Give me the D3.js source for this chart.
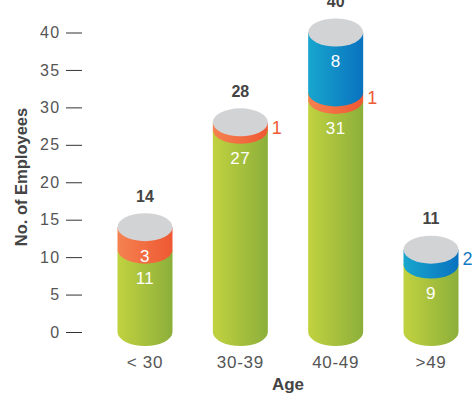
<!DOCTYPE html>
<html>
<head>
<meta charset="utf-8">
<script src="https://cdn.jsdelivr.net/npm/d3@7/dist/d3.min.js"></script>
<style>
  html, body { margin: 0; padding: 0; background: #fff; }
  svg { display: block; font-family: "Liberation Sans", Arial, Helvetica, sans-serif; }
</style>
</head>
<body>
<svg id="chart" width="475" height="404"></svg>
<script>
// Employees by age group, stacked by segment
const categories = ["< 30", "30-39", "40-49", ">49"];
const greenValues = [11, 27, 31, 9];
const orangeValues = [3, 1, 1, 0];
const blueValues = [0, 0, 8, 2];
const totals = [14, 28, 40, 11];
const yTicks = [0, 5, 10, 15, 20, 25, 30, 35, 40];

const svg = d3.select("#chart");

const x = d3.scalePoint().domain(categories).range([145, 431]);
const y = d3.scaleLinear().domain([0, 40]).range([332, 32.5]);

const rx = 27.5, ry = 14;

// Horizontal gradients giving each cylinder segment its rounded look
const defs = svg.append("defs");
const gradients = [
  { id: "g-green", from: "#c1d23f", to: "#8caf3b" },
  { id: "g-orange", from: "#f58250", to: "#ee5833" },
  { id: "g-blue", from: "#17a6cd", to: "#0a72bf" }
];
gradients.forEach(g => {
  const lg = defs.append("linearGradient").attr("id", g.id)
    .attr("x1", 0).attr("x2", 1).attr("y1", 0).attr("y2", 0);
  lg.append("stop").attr("offset", "0%").attr("stop-color", g.from);
  lg.append("stop").attr("offset", "100%").attr("stop-color", g.to);
});

// Y axis: short tick marks with labels, no domain line
const yAxis = d3.axisLeft(y).tickValues(yTicks).tickSize(16).tickPadding(5.5);
const gy = svg.append("g").attr("transform", "translate(82,0)").call(yAxis);
gy.select(".domain").remove();
gy.selectAll(".tick line").attr("stroke", "#333").attr("stroke-width", 1);
gy.selectAll(".tick text")
  .attr("fill", "#555")
  .style("font-size", "16px")
  .style("letter-spacing", "1.3px")
  .style("font-family", "'Liberation Sans', Arial, sans-serif");

// Build segment list for each bar (bottom to top)
const bars = categories.map((c, i) => {
  const segs = [];
  let base = 0;
  [
    { v: greenValues[i], fill: "url(#g-green)", color: "#8caf3b" },
    { v: orangeValues[i], fill: "url(#g-orange)", color: "#ef5b36" },
    { v: blueValues[i], fill: "url(#g-blue)", color: "#1479c4" }
  ].forEach(s => {
    if (s.v > 0) {
      segs.push({ v: s.v, y0: base, y1: base + s.v, fill: s.fill, color: s.color });
      base += s.v;
    }
  });
  return { cat: c, total: totals[i], segs };
});

function segmentPath(cx, yTop, yBot) {
  const l = cx - rx, r = cx + rx;
  return `M${l},${yTop} L${l},${yBot} A${rx},${ry} 0 0 0 ${r},${yBot} L${r},${yTop} Z`;
}

const barG = svg.append("g");
bars.forEach(b => {
  const cx = x(b.cat);
  const g = barG.append("g");
  b.segs.forEach(s => {
    g.append("path")
      .attr("d", segmentPath(cx, y(s.y1), y(s.y0)))
      .attr("fill", s.fill);
  });
  // top cap
  g.append("ellipse")
    .attr("cx", cx).attr("cy", y(b.total))
    .attr("rx", rx).attr("ry", ry)
    .attr("fill", "#d2d3d5");

  // segment value labels
  b.segs.forEach(s => {
    if (s.v >= 3) {
      g.append("text")
        .attr("x", cx).attr("y", y(s.y1) + ry + 15)
        .attr("text-anchor", "middle")
        .attr("dominant-baseline", "central")
        .attr("fill", "#fff")
        .style("font-size", "17px")
        .style("letter-spacing", "0.5px")
        .text(s.v);
    } else {
      g.append("text")
        .attr("x", cx + rx + 4).attr("y", (y(s.y1) + y(s.y0)) / 2 + 2)
        .attr("text-anchor", "start")
        .attr("dominant-baseline", "central")
        .attr("fill", s.color)
        .style("font-size", "18px")
        .text(s.v);
    }
  });

  // total label
  g.append("text")
    .attr("x", cx).attr("y", y(b.total) - ry - 17)
    .attr("text-anchor", "middle")
    .attr("dominant-baseline", "central")
    .attr("fill", "#444")
    .style("font-size", "16px")
    .style("font-weight", "bold")
    .text(b.total);
});

// Category labels
svg.append("g").selectAll("text")
  .data(categories)
  .join("text")
  .attr("x", d => x(d))
  .attr("y", 368)
  .attr("text-anchor", "middle")
  .attr("fill", "#555")
  .style("font-size", "17px")
  .style("letter-spacing", "0.7px")
  .text(d => d);

// Axis titles
svg.append("text")
  .attr("x", 288).attr("y", 390)
  .attr("text-anchor", "middle")
  .attr("fill", "#444")
  .style("font-size", "17px")
  .style("font-weight", "bold")
  .text("Age");

svg.append("text")
  .attr("transform", "translate(21,177) rotate(-90)")
  .attr("text-anchor", "middle")
  .attr("dominant-baseline", "central")
  .attr("fill", "#444")
  .style("font-size", "16.5px")
  .style("font-weight", "bold")
  .text("No. of Employees");
</script>
</body>
</html>
